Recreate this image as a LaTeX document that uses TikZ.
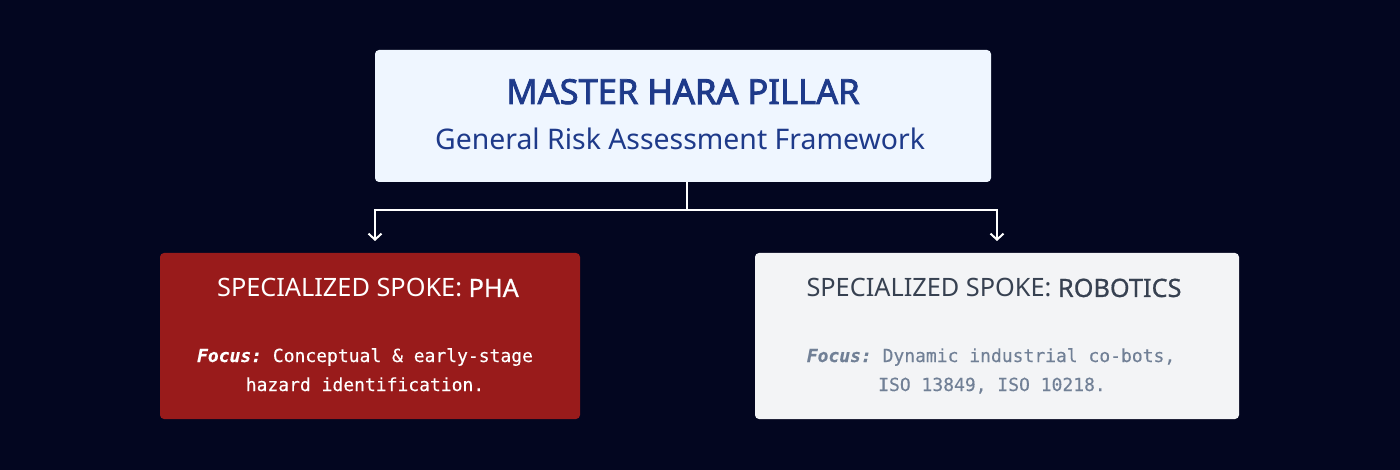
\documentclass[tikz,border=0pt]{standalone}
\usepackage{fontspec}
\setmainfont{Noto Sans}
\setmonofont{DejaVu Sans Mono}[FakeBold=0.3]
\newfontfamily\medfont[FakeBold=0.6]{Noto Sans}
\newfontfamily\heavyfont[FakeBold=2.2]{Noto Sans}
\newfontfamily\blackfont[FakeBold=3]{Noto Sans}
\usetikzlibrary{arrows.meta}
\definecolor{night}{HTML}{030620}
\definecolor{masterfill}{HTML}{EFF6FF}
\definecolor{masterink}{HTML}{1E3A8A}
\definecolor{phafill}{HTML}{991B1B}
\definecolor{robofill}{HTML}{F3F4F6}
\definecolor{roboink}{HTML}{374151}
\definecolor{robomono}{HTML}{718096}
\tikzset{
  box/.style={rounded corners=4pt, inner sep=0pt, minimum height=166pt},
  spoketitle/.style={anchor=base, font=\fontsize{25.3}{30}\selectfont},
  monoline/.style={anchor=base, font=\fontsize{18}{22}\selectfont\ttfamily},
  link/.style={draw=white, line width=2pt, -{Straight Barb[length=6pt,width=13pt]}},
}
\begin{document}
\begin{tikzpicture}[x=1pt,y=-1pt]
            \fill[night] (0,0) rectangle (1400,470);
            \useasboundingbox (0,0) rectangle (1400,470);
            % boxes
            \node[box, fill=masterfill, minimum width=616pt, minimum height=132pt] (master) at (683,116) {};
            \node[box, fill=phafill, minimum width=420pt] (pha) at (370,336) {};
            \node[box, fill=robofill, minimum width=484pt] (robo) at (997,336) {};
            % master texts
            \node[anchor=base, text=masterink, font=\fontsize{34.5}{40}\heavyfont] (masterTitle) at (683,104) {MASTER {\blackfont HARA} PILLAR};
            \node[anchor=base, text=masterink, font=\fontsize{28.4}{34}\selectfont] (masterSub) at (680,150) {General Risk Assessment Framework};
            % spoke texts
            \node[spoketitle, text=white] (phaTitle) at (368,297) {SPECIALIZED SPOKE: {\medfont PHA}};
            \node[monoline, text=white] (phaFocusA) at (365,362) {\textbf{\textit{Focus:}} Conceptual \& early-stage};
            \node[monoline, text=white] (phaFocusB) at (365,391) {hazard identification.};
            \node[spoketitle, text=roboink] (roboTitle) at (994,297) {SPECIALIZED SPOKE: {\medfont ROBOTICS}};
            \node[monoline, text=robomono] (roboFocusA) at (991,362) {\textbf{\textit{Focus:}} Dynamic industrial co-bots,};
            \node[monoline, text=robomono] (roboFocusB) at (992,391) {ISO 13849, ISO 10218.};
            % connectors
            \coordinate (fork) at (687,210);
            \coordinate (phaIn) at (375,241);
            \coordinate (roboIn) at (997,241);
            \draw[white, line width=2pt] ([xshift=4pt]master.south) -- (fork);
            \draw[link] (fork) -| (phaIn);
            \draw[link] (fork) -| (roboIn);
        \end{tikzpicture}
\end{document}
